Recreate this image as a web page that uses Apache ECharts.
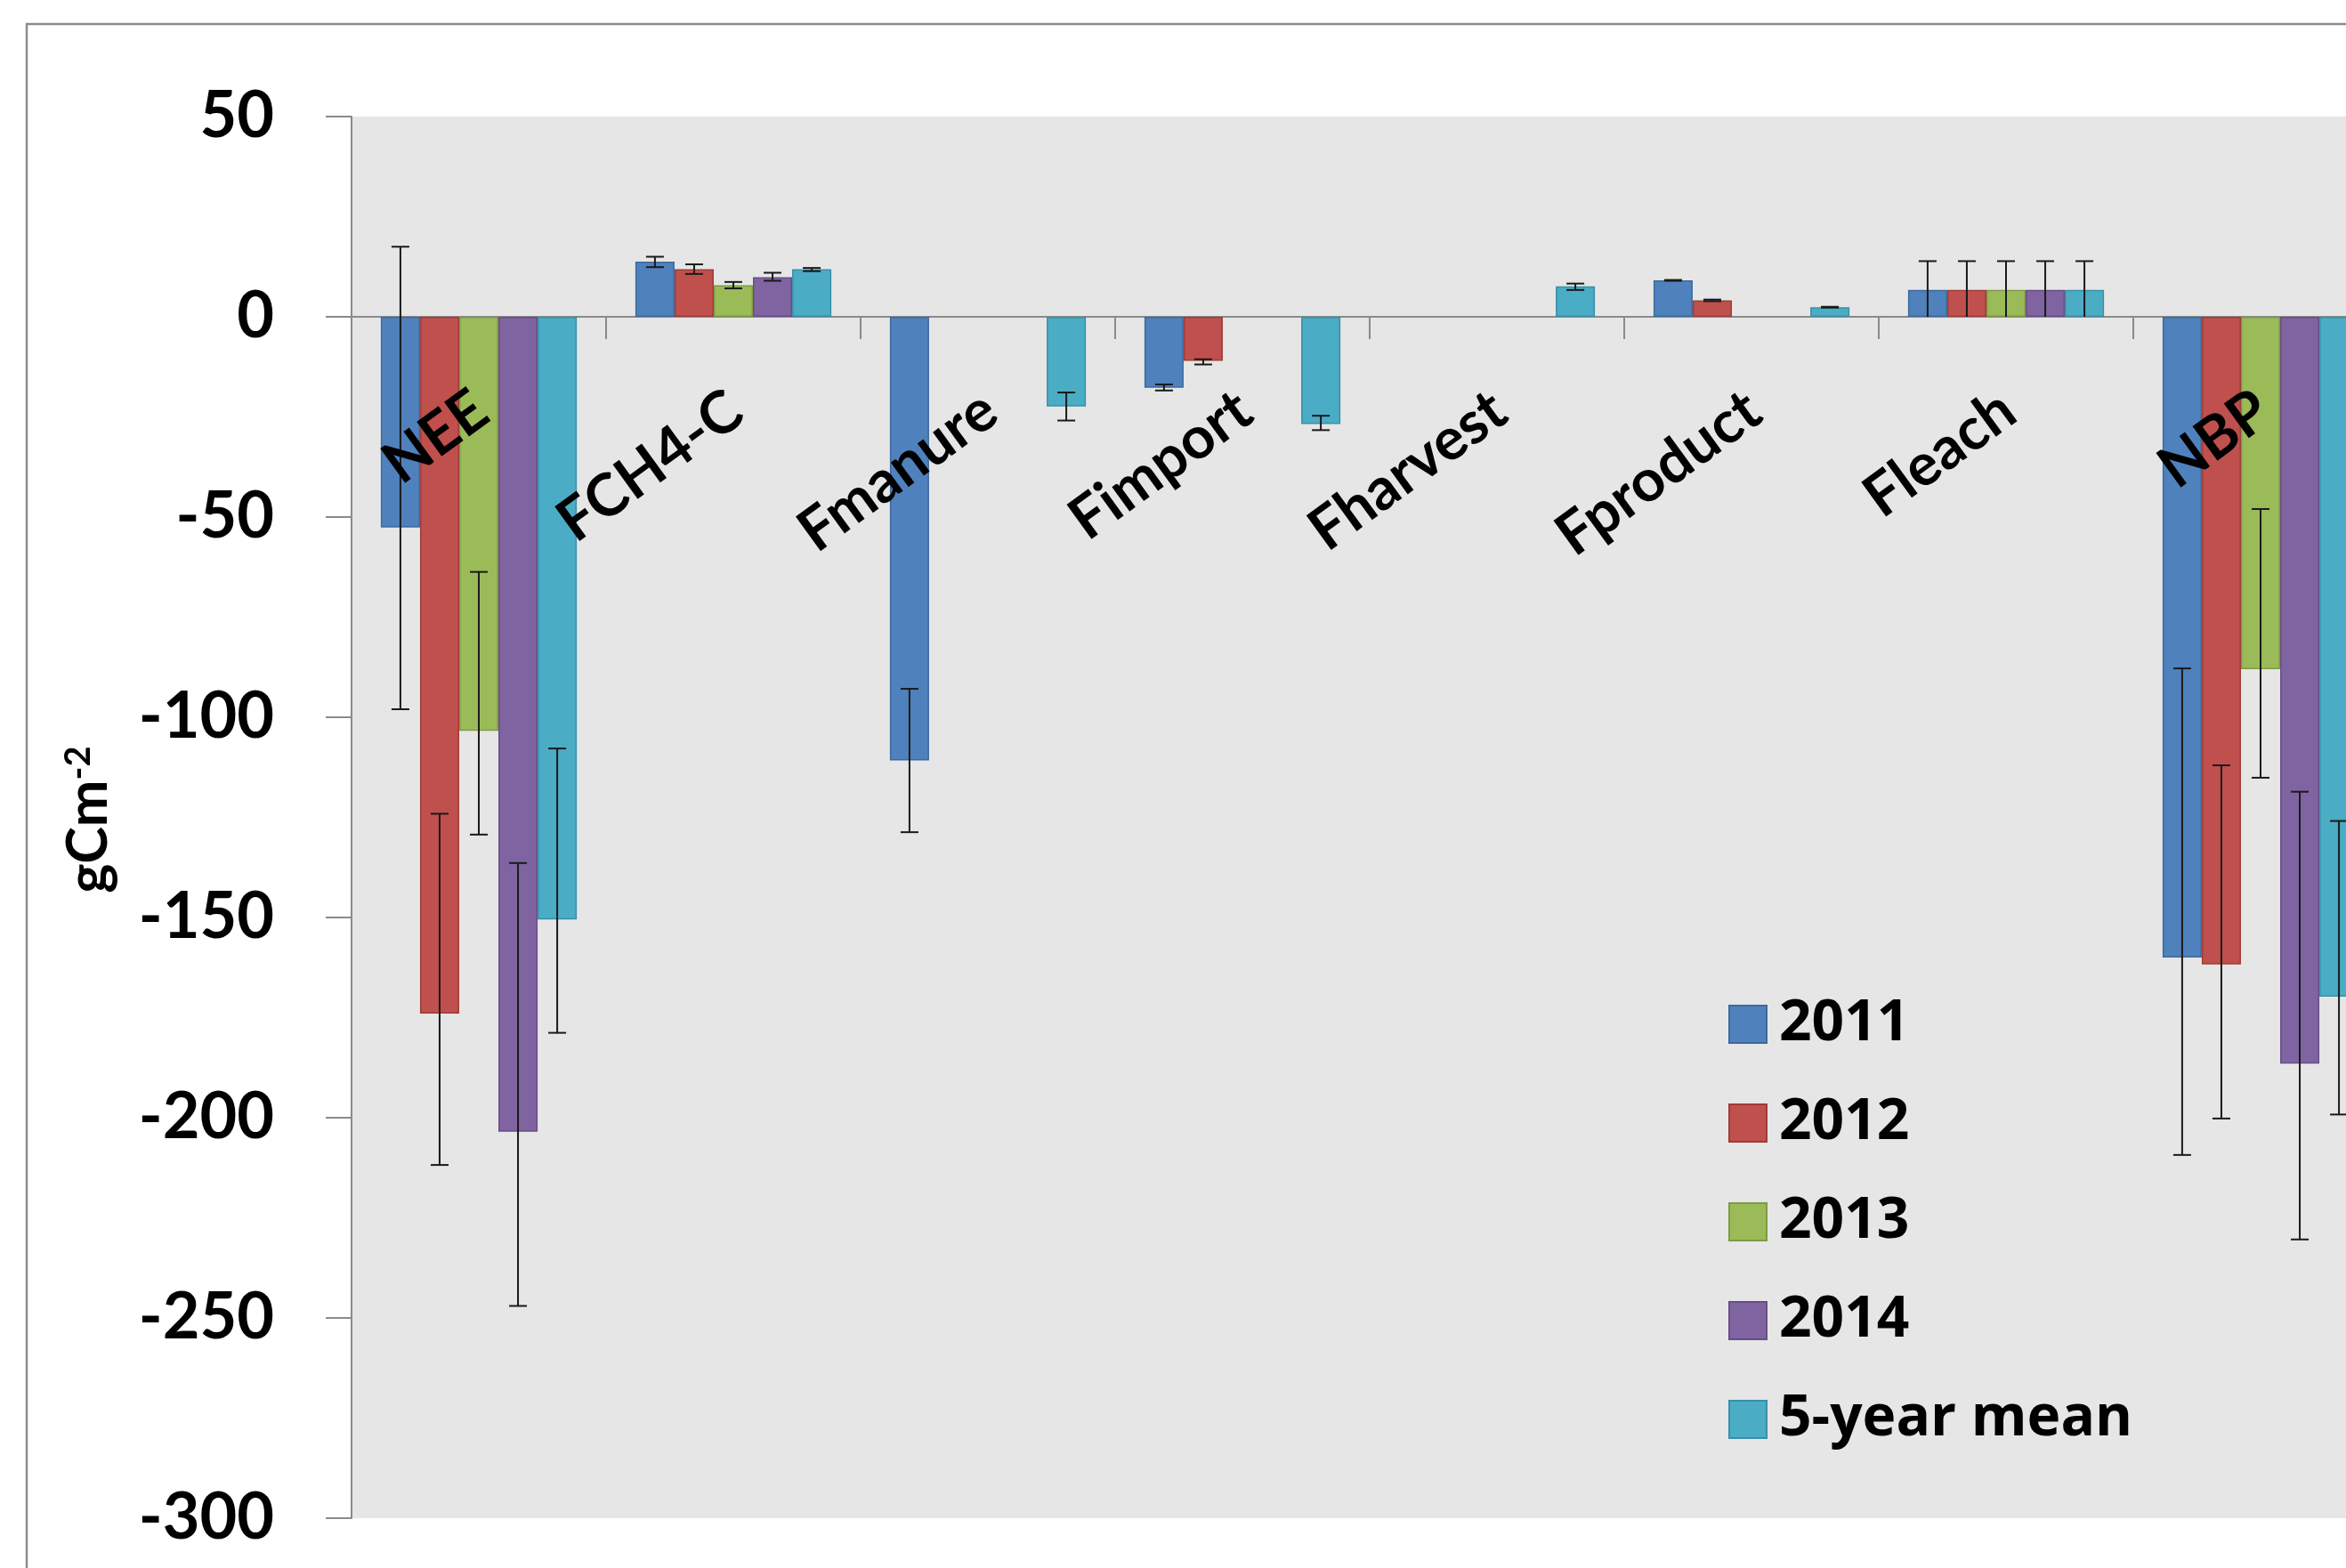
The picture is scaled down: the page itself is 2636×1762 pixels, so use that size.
<!DOCTYPE html>
<html><head><meta charset="utf-8">
<script src="https://cdn.jsdelivr.net/npm/echarts@6/dist/echarts.min.js"></script>
<style>html,body{margin:0;padding:0;background:#fff}#c{width:2636px;height:1762px}</style>
</head><body><div id="c"></div>
<script>
const categories = ['NEE','FCH4-C','Fmanure','Fimport','Fharvest','Fproduct','Fleach','NBP'];
const seriesNames = ['2011','2012','2013','2014','5-year mean'];
const yTicks = { min: -300, max: 50, step: 50 };

const v2011 = [-52.6, 13.8, -110.8, -17.7, null, 9.1, 6.7, -160.0];
const v2012 = [-174.0, 11.9, null, -11.0, null, 4.1, 6.7, -161.7];
const v2013 = [-103.4, 7.9, null, null, null, null, 6.7, -88.0];
const v2014 = [-203.5, 9.9, null, null, null, null, 6.7, -186.5];
const vMean = [-150.5, 11.9, -22.4, -26.8, 7.6, 2.4, 6.7, -169.8];

const lo2011 = [-98.0, 12.4, -128.7, -18.4, null, 9.0, 0, -209.3];
const hi2011 = [17.5, 15.0, -92.9, -16.9, null, 9.2, 13.9, -87.8];
const lo2012 = [-211.8, 10.7, null, -11.9, null, 3.9, 0, -200.2];
const hi2012 = [-124.1, 13.1, null, -10.6, null, 4.3, 13.9, -112.0];
const lo2013 = [-129.3, 7.1, null, null, null, null, 0, -115.1];
const hi2013 = [-63.7, 8.7, null, null, null, null, 13.9, -48.0];
const lo2014 = [-247.0, 9.0, null, null, null, null, 0, -230.4];
const hi2014 = [-136.4, 11.0, null, null, null, null, 13.9, -118.6];
const loMean = [-178.8, 11.4, -25.9, -28.3, 6.7, 2.3, 0, -199.2];
const hiMean = [-107.8, 12.2, -18.9, -24.7, 8.3, 2.5, 13.9, -125.9];

const values = [v2011, v2012, v2013, v2014, vMean];
const lows = [lo2011, lo2012, lo2013, lo2014, loMean];
const highs = [hi2011, hi2012, hi2013, hi2014, hiMean];
const colors = ['#4F81BD','#C0504D','#9BBB59','#8064A2','#4BACC6'];
const borders = ['#3D6A9E','#9E3C39','#7E9A45','#664F85','#3A8FA6'];

const FONT = 'Lato';
const LEGEND_FONT = 'Open Sans';
const CAT_GAP = 0.23;
const LABEL_MARGIN = 98;
const LABEL_ROTATE = 36;

const errData = [];
lows.forEach((lo, si) => {
  lo.forEach((l, ci) => {
    if (l !== null && highs[si][ci] !== null) errData.push([ci, l, highs[si][ci], si]);
  });
});

const series = seriesNames.map((n, i) => ({
  name: n,
  type: 'bar',
  data: values[i],
  barGap: '0%',
  barCategoryGap: (CAT_GAP * 100) + '%',
  itemStyle: { color: colors[i], borderColor: borders[i], borderWidth: 1.5 },
  z: 2
}));

series.push({
  type: 'custom',
  name: 'err',
  data: errData,
  encode: { x: 0, y: [1, 2] },
  z: 5,
  silent: true,
  renderItem: function (params, api) {
    const ci = api.value(0), lo = api.value(1), hi = api.value(2), si = api.value(3);
    const band = api.size([1, 0])[0];
    const used = band * (1 - CAT_GAP);
    const bw = used / seriesNames.length;
    const cx = api.coord([ci, 0])[0] - used / 2 + bw * (si + 0.5);
    const yLo = api.coord([ci, lo])[1];
    const yHi = api.coord([ci, hi])[1];
    const cap = 10;
    const st = { stroke: '#1a1a1a', lineWidth: 2 };
    const ch = [
      { type: 'line', shape: { x1: cx, y1: yLo, x2: cx, y2: yHi }, style: st },
      { type: 'line', shape: { x1: cx - cap, y1: yHi, x2: cx + cap, y2: yHi }, style: st }
    ];
    if (lo !== 0) ch.push({ type: 'line', shape: { x1: cx - cap, y1: yLo, x2: cx + cap, y2: yLo }, style: st });
    return { type: 'group', children: ch };
  }
});

// category labels drawn at the zero line (the axis crosses at 0)
series.push({
  type: 'custom',
  name: 'catLabels',
  data: categories.map((c, i) => [i, 0]),
  encode: { x: 0, y: 1 },
  z: 8,
  silent: true,
  renderItem: function (params, api) {
    const p = api.coord([api.value(0), 0]);
    return {
      type: 'text',
      x: p[0] + 3, y: p[1] + LABEL_MARGIN,
      rotation: LABEL_ROTATE * Math.PI / 180,
      style: {
        text: categories[api.value(0)],
        x: 0, y: 0,
        align: 'right', verticalAlign: 'middle',
        fontFamily: FONT, fontWeight: 'bold', fontSize: 66, fill: '#000'
      }
    };
  }
});

const chart = echarts.init(document.getElementById('c'), null, { renderer: 'canvas' });
chart.setOption({
  animation: false,
  backgroundColor: '#ffffff',
  graphic: [
    { type: 'rect', z: -10, shape: { x: 30, y: 27, width: 2700, height: 1800 },
      style: { fill: 'none', stroke: '#8c8c8c', lineWidth: 2.5 } },
    { type: 'text', z: 10, x: 100, y: 921, rotation: Math.PI / 2,
      style: {
        text: '{a|gCm}{b|-2}',
        align: 'center', verticalAlign: 'middle',
        rich: {
          a: { fontFamily: FONT, fontWeight: 'bold', fontSize: 63, lineHeight: 63, verticalAlign: 'bottom', fill: '#000' },
          b: { fontFamily: FONT, fontWeight: 'bold', fontSize: 40, lineHeight: 40, verticalAlign: 'top', fill: '#000' }
        }
      } }
  ],
  grid: { left: 395, top: 131, width: 2288, height: 1575, show: true, backgroundColor: '#E6E6E6', borderWidth: 0,
          containLabel: false, outerBoundsMode: 'none' },
  legend: {
    orient: 'vertical',
    left: 1937, top: 1114,
    itemWidth: 42, itemHeight: 42, itemGap: 47,
    data: seriesNames,
    icon: 'rect',
    textStyle: { fontFamily: LEGEND_FONT, fontWeight: 'bold', fontSize: 64, color: '#000', padding: [0, 0, 0, 9] }
  },
  xAxis: {
    type: 'category',
    data: categories,
    axisLine: { onZero: true, lineStyle: { color: '#8a8a8a', width: 2 } },
    axisTick: { show: true, length: 25, interval: 0, alignWithLabel: false, lineStyle: { color: '#8a8a8a', width: 2 } },
    axisLabel: { show: false },
    splitLine: { show: false }
  },
  yAxis: {
    type: 'value',
    min: yTicks.min, max: yTicks.max, interval: yTicks.step,
    axisLine: { show: true, lineStyle: { color: '#8a8a8a', width: 2 } },
    axisTick: { show: true, length: 29, lineStyle: { color: '#8a8a8a', width: 2 } },
    axisLabel: { margin: 87, fontFamily: FONT, fontWeight: 'bold', fontSize: 72, color: '#000' },
    splitLine: { show: false }
  },
  series: series
});
</script></body></html>
